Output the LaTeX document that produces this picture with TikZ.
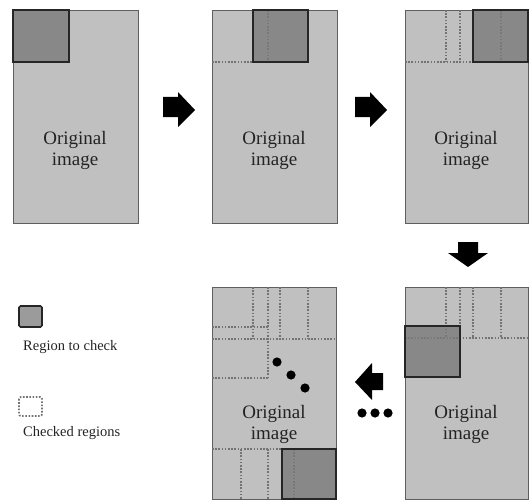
\documentclass[tikz,border=0pt]{standalone}
\usepackage{fontspec}
\setmainfont{Liberation Serif}
\definecolor{panelgray}{RGB}{192,192,192}
\definecolor{panelline}{RGB}{95,95,95}
\definecolor{regiongray}{RGB}{122,122,122}
\definecolor{dotgray}{RGB}{115,115,115}
\definecolor{textgray}{RGB}{35,35,35}
\tikzset{
  panel/.style={draw=panelline, fill=panelgray, line width=0.9pt},
  region/.style={draw=black!85, fill=regiongray, fill opacity=0.8, draw opacity=1, line width=1.3pt},
  checked/.style={draw=dotgray, line width=1.8pt, dash pattern=on 1.6pt off 1.6pt},
  blockarrow/.style={fill=black, draw=none},
  lbl/.style={align=center, text=textgray, font=\fontsize{19}{21}\selectfont, inner sep=0pt},
  legendtext/.style={anchor=base west, text=textgray, font=\fontsize{14.5}{16}\selectfont, inner sep=0pt},
  dotmark/.style={fill=black, draw=none}
}
\begin{document}
\begin{tikzpicture}[x=1pt,y=-1pt]
\useasboundingbox (0,0) rectangle (529,500);

% ---------- panel 1 ----------
\draw[panel] (13,10) rectangle (138,223);
\draw[region] (13,10) rectangle (69,62);
\node[lbl] (t1) at (75,150) {Original\\image};

% ---------- panel 2 ----------
\draw[panel] (212,10) rectangle (337,223);
\draw[checked] (212,62) -- (253,62);
\draw[checked] (268,10) -- (268,62);
\draw[region] (253,10) rectangle (308,62);
\node[lbl] (t2) at (274,150) {Original\\image};

% ---------- panel 3 ----------
\draw[panel] (405,10) rectangle (528,223);
\draw[checked] (405,62) -- (473,62);
\draw[checked] (446,10) -- (446,62);
\draw[checked] (460,10) -- (460,62);
\draw[checked] (501,10) -- (501,62);
\draw[region] (473,10) rectangle (528,62);
\node[lbl] (t3) at (466,150) {Original\\image};

% ---------- panel 4 (bottom right) ----------
\draw[panel] (405,287) rectangle (528,499);
\draw[checked] (405,338) -- (528,338);
\foreach \xx in {446,460,473,501} \draw[checked] (\xx,287) -- (\xx,338);
\draw[region] (405,326) rectangle (460,377);
\node[lbl] (t4) at (466,424) {Original\\image};

% ---------- panel 5 (bottom middle) ----------
\draw[panel] (212,287) rectangle (336,499);
\draw[checked] (212,339) -- (336,339);
\foreach \xx in {253,280,308} \draw[checked] (\xx,287) -- (\xx,339);
\draw[checked] (268,287) -- (268,378);
\draw[checked] (212,327) -- (268,327);
\draw[checked] (212,378) -- (268,378);
\draw[checked] (212,449) -- (282,449);
\foreach \xx in {241,268,294} \draw[checked] (\xx,449) -- (\xx,499);
\draw[region] (282,449) rectangle (336,499);
\node[lbl] (t5) at (274,424) {Original\\image};
\fill[dotmark] (277,362) circle (4.6);
\fill[dotmark] (291,375) circle (4.6);
\fill[dotmark] (305,388) circle (4.6);

% ---------- block arrows ----------
\fill[blockarrow] (163,97) -- (178,97) -- (178,92) -- (195,110) -- (178,127) -- (178,117) -- (163,117) -- cycle;
\fill[blockarrow] (355,97) -- (370,97) -- (370,92) -- (387,110) -- (370,127) -- (370,117) -- (355,117) -- cycle;
\fill[blockarrow] (458,242) -- (478,242) -- (478,253) -- (488,253) -- (468,267) -- (448,253) -- (458,253) -- cycle;
\fill[blockarrow] (383,373) -- (372,373) -- (372,363) -- (355,382) -- (372,400) -- (372,390) -- (383,390) -- cycle;

% ---------- ellipsis ----------
\fill[dotmark] (362,413) circle (4.6);
\fill[dotmark] (375,413) circle (4.6);
\fill[dotmark] (388,413) circle (4.6);

% ---------- legend ----------
\draw[draw=black!85, fill=regiongray!75, line width=1.6pt, rounded corners=1.5pt] (19,306) rectangle (42,327);
\node[legendtext] (l1) at (23,350) {Region to check};
\draw[checked, rounded corners=2pt] (19,397) rectangle (42,416);
\node[legendtext] (l2) at (23,436) {Checked regions};
\end{tikzpicture}
\end{document}
